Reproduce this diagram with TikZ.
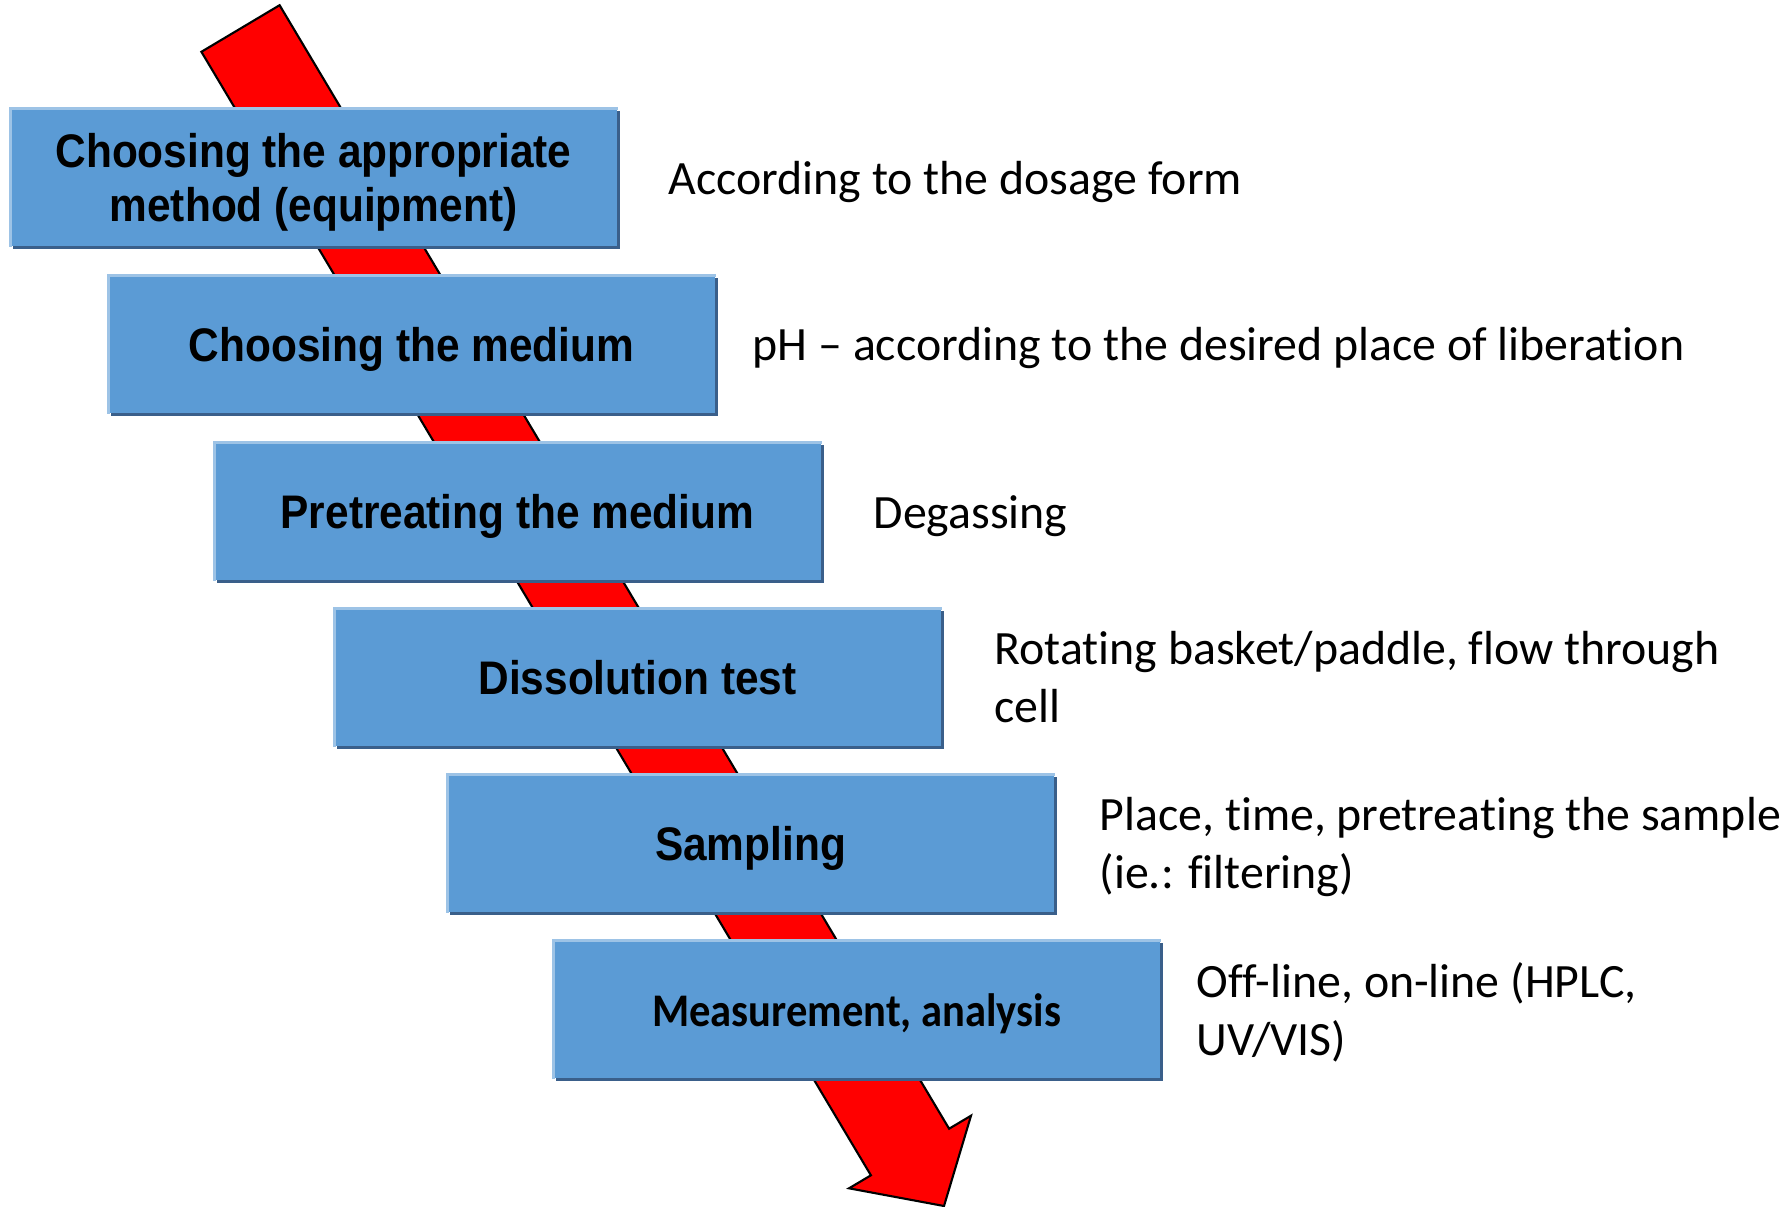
\documentclass[tikz,border=0pt]{standalone}
\usepackage{fontspec}
\setmainfont{Carlito}[Ligatures=NoCommon]
\newfontfamily\boxfont[FakeStretch=0.9]{Liberation Sans}
\newfontfamily\measfont[FakeStretch=0.91, Ligatures=NoCommon]{Carlito}
\usetikzlibrary{shadows}
\definecolor{boxblue}{RGB}{91,155,213}
\definecolor{boxdark}{RGB}{58,95,138}
\definecolor{boxlight}{RGB}{157,195,230}
\newcommand\stepstrut{\rule[-0.21em]{0pt}{1.16em}}
\tikzset{
    stepbox/.style={rectangle, fill=boxblue, minimum width=6.07cm,
        minimum height=1.38cm, inner sep=0pt, align=center,
        drop shadow={shadow xshift=0.03cm, shadow yshift=-0.03cm,
            fill=boxdark, opacity=1},
        font=\boxfont\bfseries\fontsize{13.4}{15.3}\selectfont},
    stepnote/.style={anchor=west, align=left, inner sep=0pt,
        font=\fontsize{13.6}{16.5}\selectfont},
    bigarrow/.style={fill=red, draw=black, line width=0.6pt,
        line join=miter}
}
\begin{document}
\begin{tikzpicture}[x=0.01cm, y=-0.01cm]
    \useasboundingbox (0, 0) rectangle (1791, 1206);
    % the red arrow behind the steps
    \draw [bigarrow] (201.4, 51.8) -- (279.6, 5.2) -- (949.1, 1128.7) --
        (971, 1115.7) -- (944, 1206) -- (849, 1188.3) -- (870.9, 1175.3) --
        cycle;
    % steps
    \node [stepbox] (method) at (313.5, 177)
        {\stepstrut Choosing the appropriate\\method (equipment)};
    \node [stepbox] (medium) at (411.5, 344) {\stepstrut Choosing the medium};
    \node [stepbox] (pretreat) at (517.5, 511)
        {\stepstrut Pretreating the medium};
    \node [stepbox] (dissol) at (637.5, 677) {\stepstrut Dissolution test};
    \node [stepbox] (sampling) at (750.5, 843) {\stepstrut Sampling};
    \node [stepbox, font=\measfont\bfseries\fontsize{13.3}{15.3}\selectfont]
        (measure) at (856.5, 1009) {\stepstrut Measurement, analysis};
    \foreach \n in {method, medium, pretreat, dissol, sampling, measure}
        \draw [boxlight, line width=0.7pt] ([xshift=0.35pt]\n.south west)
            |- ([yshift=-0.35pt]\n.north east);
    % notes
    \node [stepnote] (methodnote) at (668, 182)
        {According to the dosage form};
    \node [stepnote] (mediumnote) at (752, 348)
        {pH -- according to the desired place of liberation};
    \node [stepnote] (pretreatnote) at (873, 516) {Degassing};
    \node [stepnote] (dissolnote) at (994, 677)
        {Rotating basket/paddle, flow through\\cell};
    \node [stepnote] (samplingnote) at (1099, 847)
        {Place, time, pretreating the sample\\(ie.: filtering)};
    \node [stepnote] (measurenote) at (1196, 1012)
        {Off-line, on-line (HPLC,\\UV/VIS)};
\end{tikzpicture}
\end{document}
